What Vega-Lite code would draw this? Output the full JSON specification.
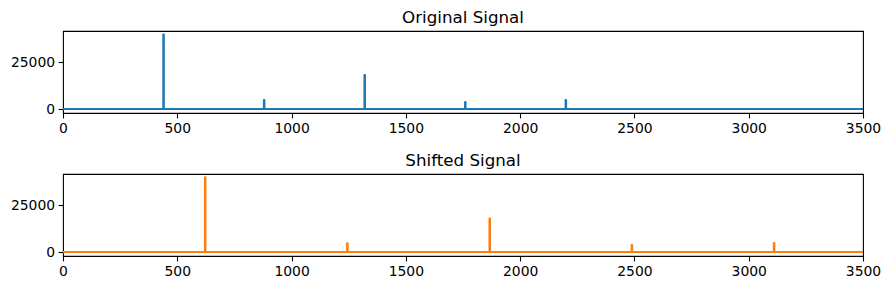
{
  "$schema": "https://vega.github.io/schema/vega-lite/v6.json",
  "background": "white",
  "padding": {"left": 9, "top": 9, "right": 20, "bottom": 5},
  "spacing": 16,
  "datasets": {
    "original": [
      {"f": 0, "a": 0}, {"f": 439, "a": 0}, {"f": 439, "a": 39800}, {"f": 441, "a": 39800}, {"f": 441, "a": 0},
      {"f": 879, "a": 0}, {"f": 879, "a": 4800}, {"f": 881, "a": 4800}, {"f": 881, "a": 0},
      {"f": 1319, "a": 0}, {"f": 1319, "a": 18200}, {"f": 1321, "a": 18200}, {"f": 1321, "a": 0},
      {"f": 1759, "a": 0}, {"f": 1759, "a": 3750}, {"f": 1761, "a": 3750}, {"f": 1761, "a": 0},
      {"f": 2199, "a": 0}, {"f": 2199, "a": 4800}, {"f": 2201, "a": 4800}, {"f": 2201, "a": 0},
      {"f": 3500, "a": 0}
    ],
    "shifted": [
      {"f": 0, "a": 0}, {"f": 621, "a": 0}, {"f": 621, "a": 39900}, {"f": 623, "a": 39900}, {"f": 623, "a": 0},
      {"f": 1243, "a": 0}, {"f": 1243, "a": 4700}, {"f": 1245, "a": 4700}, {"f": 1245, "a": 0},
      {"f": 1866, "a": 0}, {"f": 1866, "a": 17900}, {"f": 1868, "a": 17900}, {"f": 1868, "a": 0},
      {"f": 2488, "a": 0}, {"f": 2488, "a": 3800}, {"f": 2490, "a": 3800}, {"f": 2490, "a": 0},
      {"f": 3110, "a": 0}, {"f": 3110, "a": 4800}, {"f": 3112, "a": 4800}, {"f": 3112, "a": 0},
      {"f": 3500, "a": 0}
    ]
  },
  "config": {
    "font": "DejaVu Sans",
    "view": {"stroke": "black", "strokeWidth": 1.1},
    "title": {"fontSize": 16.7, "fontWeight": "normal", "color": "black", "offset": 4, "font": "DejaVu Sans"},
    "axis": {
      "grid": false,
      "domain": false,
      "tickColor": "black",
      "tickSize": 4.9,
      "tickWidth": 1.1,
      "labelColor": "black",
      "labelFont": "DejaVu Sans",
      "labelFontSize": 13.9,
      "labelPadding": 3.5,
      "title": null,
      "labelOverlap": false,
      "labelBound": false,
      "labelFlush": false
    }
  },
  "vconcat": [
    {
      "title": "Original Signal",
      "width": 800,
      "height": 82,
      "data": {"name": "original"},
      "mark": {"type": "line", "color": "#1f77b4", "strokeWidth": 2.08, "clip": true, "strokeJoin": "round"},
      "encoding": {
        "x": {"field": "f", "type": "quantitative", "scale": {"domain": [0, 3500], "nice": false, "zero": false},
              "axis": {"values": [0, 500, 1000, 1500, 2000, 2500, 3000, 3500], "format": "d"}},
        "y": {"field": "a", "type": "quantitative", "scale": {"domain": [-2100, 41700], "nice": false, "zero": false},
              "axis": {"values": [0, 25000], "format": "d"}}
      }
    },
    {
      "title": "Shifted Signal",
      "width": 800,
      "height": 82,
      "data": {"name": "shifted"},
      "mark": {"type": "line", "color": "#ff7f0e", "strokeWidth": 2.08, "clip": true, "strokeJoin": "round"},
      "encoding": {
        "x": {"field": "f", "type": "quantitative", "scale": {"domain": [0, 3500], "nice": false, "zero": false},
              "axis": {"values": [0, 500, 1000, 1500, 2000, 2500, 3000, 3500], "format": "d"}},
        "y": {"field": "a", "type": "quantitative", "scale": {"domain": [-2100, 41700], "nice": false, "zero": false},
              "axis": {"values": [0, 25000], "format": "d"}}
      }
    }
  ]
}
